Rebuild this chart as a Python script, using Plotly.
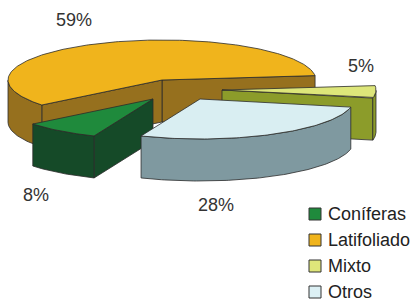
import math
import plotly.graph_objects as go

# ---- data ----
categories = ["Coníferas", "Latifoliado", "Mixto", "Otros"]
values = [8, 59, 5, 28]
labels_text = ["8%", "59%", "5%", "28%"]

# ---- style ----
top_colors = ["#1f8a3c", "#f0b41c", "#dde67a", "#d9eef2"]
side_colors = ["#154a28", "#96701e", "#8c9c2a", "#7f99a0"]
legend_colors = ["#1f8a3c", "#f0b41c", "#dfe67a", "#dcf0f4"]
explode = [(-9, 19), (0, 0), (60, 10), (38, 19)]      # pixel offsets of each slice
label_pos = [(36, 195), (74, 20), (361, 66), (216, 205)]
draw_order = [1, 2, 0, 3]
CX, CY, RX, RY, DEPTH = 162, 80, 154, 40, 42
START = 247.5  # degrees, clockwise
LEG_X, LEG_Y0, LEG_DY = 315, 214, 26
FONT = "Liberation Sans, Arial"

total = sum(values)
angles = []
a = START
for v in values:
    span = 360.0 * v / total
    angles.append((a - span, a))  # counterclockwise interval [lo, hi]
    a -= span

fig = go.Figure()
OUT = "#2b2b2b"

def add_poly(xs, ys, color):
    fig.add_trace(go.Scatter(x=xs, y=ys, mode="lines", fill="toself",
                             fillcolor=color, line=dict(color=OUT, width=0.8),
                             hoverinfo="skip", showlegend=False))

for i in draw_order:
    lo, hi = angles[i]
    vx = CX + explode[i][0]
    vy = CY + explode[i][1]

    def top(t):
        r = math.radians(t)
        return vx + RX * math.cos(r), vy - RY * math.sin(r)

    n = max(int((hi - lo) / 1.0), 2)
    ts = [lo + (hi - lo) * k / n for k in range(n + 1)]

    # radial faces
    for ang, vis in ((lo, math.cos(math.radians(lo)) > 0), (hi, math.cos(math.radians(hi)) < 0)):
        if vis:
            px, py = top(ang)
            add_poly([vx, px, px, vx, vx], [vy, py, py + DEPTH, vy + DEPTH, vy], side_colors[i])

    # outer wall (front part)
    runs, cur = [], []
    for t in ts:
        if math.sin(math.radians(t)) <= 1e-9:
            cur.append(t)
        else:
            if len(cur) > 1:
                runs.append(cur)
            cur = []
    if len(cur) > 1:
        runs.append(cur)
    for run in runs:
        xs = [top(t)[0] for t in run]
        ys = [top(t)[1] for t in run]
        xs2 = xs[::-1]
        ys2 = [y + DEPTH for y in ys[::-1]]
        add_poly(xs + xs2 + [xs[0]], ys + ys2 + [ys[0]], side_colors[i])

    # top face
    xs = [vx] + [top(t)[0] for t in ts] + [vx]
    ys = [vy] + [top(t)[1] for t in ts] + [vy]
    add_poly(xs, ys, top_colors[i])

# manual legend
leg_y = [LEG_Y0 + LEG_DY * k for k in range(len(categories))]
fig.add_trace(go.Scatter(x=[LEG_X] * len(categories), y=leg_y, mode="markers",
                         marker=dict(symbol="square", size=12, color=legend_colors,
                                     line=dict(color="#333333", width=1)),
                         hoverinfo="skip", showlegend=False))
for k, c in enumerate(categories):
    fig.add_annotation(x=LEG_X + 11, y=leg_y[k], text=c, showarrow=False,
                       font=dict(size=18, color="#222222", family=FONT),
                       xanchor="left", yanchor="middle")

for i, t in enumerate(labels_text):
    fig.add_annotation(x=label_pos[i][0], y=label_pos[i][1], text=t, showarrow=False,
                       font=dict(size=18, color="#333333", family=FONT),
                       xanchor="center", yanchor="middle")

fig.update_layout(
    width=411, height=301, margin=dict(l=0, r=0, t=0, b=0),
    paper_bgcolor="white", plot_bgcolor="white",
    xaxis=dict(range=[0, 411], visible=False, fixedrange=True),
    yaxis=dict(range=[301, 0], visible=False, fixedrange=True),
    showlegend=False,
)

fig.write_html("out.html",
               config={"displayModeBar": False},
               post_script="document.body.style.margin='0px';document.body.style.padding='0px';document.body.style.overflow='hidden';")
